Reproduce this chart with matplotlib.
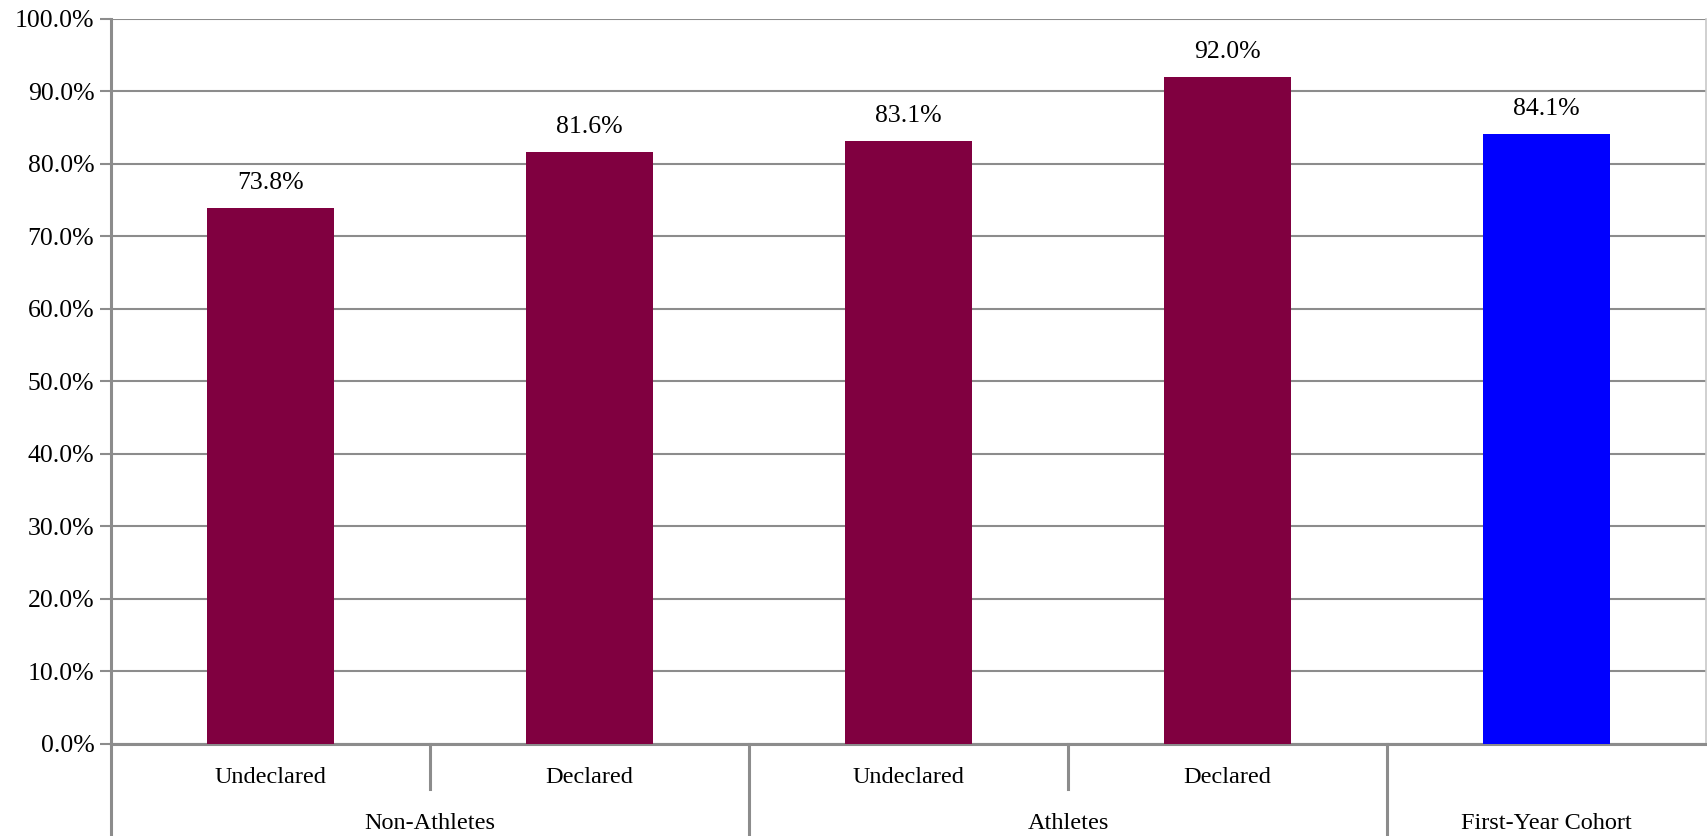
import matplotlib.pyplot as plt
import matplotlib.transforms as mtransforms
from matplotlib.ticker import FuncFormatter
import numpy as np

# retention rate by group
groups = ["Non-Athletes", "Athletes", "First-Year Cohort"]
subgroups = ["Undeclared", "Declared", "Undeclared", "Declared", ""]
group_of = [0, 0, 1, 1, 2]
rates = [73.8, 81.6, 83.1, 92.0, 84.1]
colors = ["#800040", "#800040", "#800040", "#800040", "#0000ff"]

plt.rcParams['font.family'] = ['Liberation Serif', 'DejaVu Serif']
grid_col = "#8c8c8c"
num_size = 18.5
word_size = 17.5

fig = plt.figure(figsize=(17.07, 8.36), dpi=100)
ax = fig.add_axes([111 / 1707, 92.4 / 836, 1595 / 1707, 725.1 / 836])

x = np.arange(len(rates))
ax.bar(x, rates, width=0.4, color=colors, zorder=3)
for xi, v in zip(x, rates):
    ax.annotate(f"{v:.1f}%", (xi, v), xytext=(0, 18), textcoords="offset points",
                ha="center", va="center", fontsize=num_size)

ax.set_xlim(-0.5, len(rates) - 0.5)
ax.set_ylim(0, 100)
ax.set_yticks(np.arange(0, 101, 10))
ax.yaxis.set_major_formatter(FuncFormatter(lambda v, p: f"{v:.1f}%"))
ax.tick_params(axis="y", labelsize=num_size, length=8, width=1.5, color=grid_col, pad=4)
ax.set_xticks([])
ax.grid(axis="y", color=grid_col, linewidth=1.5, zorder=0)

for side in ["left", "bottom"]:
    ax.spines[side].set_color(grid_col)
    ax.spines[side].set_linewidth(2.2)
ax.spines["top"].set_visible(False)
ax.spines["right"].set_color("#c8c8c8")
ax.spines["right"].set_linewidth(1.2)

# two-level category axis below the bars
trans = mtransforms.blended_transform_factory(ax.transData, ax.transAxes)
for xi, name in zip(x, subgroups):
    if name:
        ax.text(xi, -0.047, name, transform=trans, ha="center", va="center",
                fontsize=word_size)

for gi, name in enumerate(groups):
    members = [xi for xi, g in zip(x, group_of) if g == gi]
    ax.text(np.mean(members), -0.11, name, transform=trans, ha="center", va="center",
            fontsize=word_size)

for xi in range(len(rates) - 1):
    edge = xi + 0.5
    if group_of[xi] == group_of[xi + 1]:
        y_end = -0.063
    else:
        y_end = -0.13
    ax.plot([edge, edge], [0, y_end], transform=trans, color=grid_col, linewidth=2.2,
            clip_on=False)
ax.plot([-0.5, -0.5], [0, -0.13], transform=trans, color=grid_col, linewidth=2.2,
        clip_on=False)

fig.savefig("out.png", dpi=100)
